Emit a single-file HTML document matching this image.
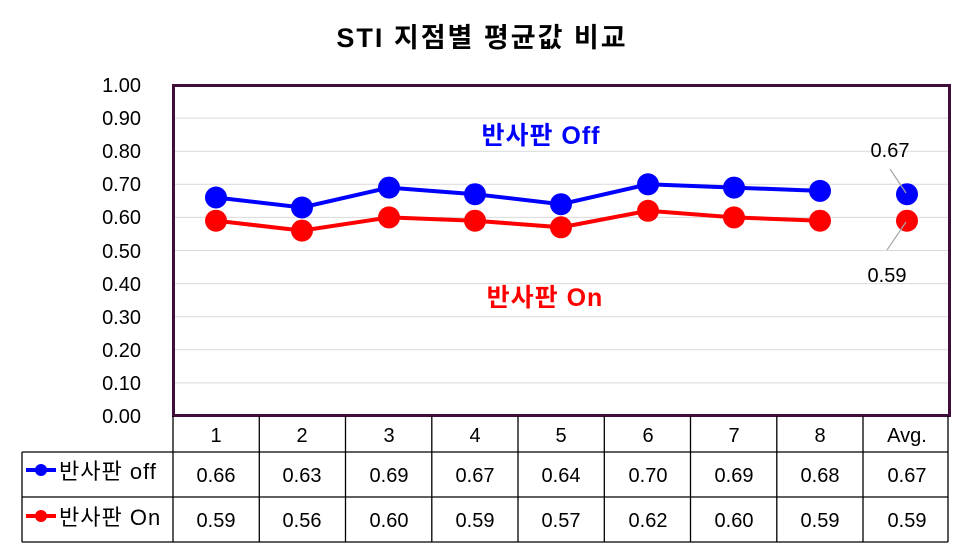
<!DOCTYPE html>
<html><head><meta charset="utf-8"><style>
body{margin:0;background:#fff;}
text{font-family:"Liberation Sans","Noto Sans CJK KR",sans-serif;}
</style></head><body>
<svg width="965" height="548" xmlns="http://www.w3.org/2000/svg">
<text x="482" y="47" font-size="27" font-weight="bold" text-anchor="middle" fill="#000" letter-spacing="2">STI  지점별 평균값 비교</text>
<g stroke="#d9d9d9" stroke-width="1">
<line x1="173" x2="949" y1="118.1" y2="118.1"/><line x1="173" x2="949" y1="151.2" y2="151.2"/>
<line x1="173" x2="949" y1="184.3" y2="184.3"/><line x1="173" x2="949" y1="217.4" y2="217.4"/>
<line x1="173" x2="949" y1="250.5" y2="250.5"/><line x1="173" x2="949" y1="283.6" y2="283.6"/>
<line x1="173" x2="949" y1="316.7" y2="316.7"/><line x1="173" x2="949" y1="349.8" y2="349.8"/>
<line x1="173" x2="949" y1="382.9" y2="382.9"/>
</g>
<g font-size="20" fill="#000" text-anchor="end">
<text x="141" y="92">1.00</text><text x="141" y="125">0.90</text><text x="141" y="158">0.80</text>
<text x="141" y="191">0.70</text><text x="141" y="224">0.60</text><text x="141" y="258">0.50</text>
<text x="141" y="291">0.40</text><text x="141" y="324">0.30</text><text x="141" y="357">0.20</text>
<text x="141" y="390">0.10</text><text x="141" y="423">0.00</text>
</g>
<polyline fill="none" stroke="#0000ff" stroke-width="4" points="216,197.5 302,207.5 389,187.6 475,194.2 561,204.2 648,184.3 734,187.6 820,190.9"/>
<polyline fill="none" stroke="#ff0000" stroke-width="4" points="216,220.7 302,230.6 389,217.4 475,220.7 561,227.3 648,210.8 734,217.4 820,220.7"/>
<g fill="#0000ff">
<circle cx="216" cy="197.5" r="11"/><circle cx="302" cy="207.5" r="11"/><circle cx="389" cy="187.6" r="11"/><circle cx="475" cy="194.2" r="11"/><circle cx="561" cy="204.2" r="11"/><circle cx="648" cy="184.3" r="11"/><circle cx="734" cy="187.6" r="11"/><circle cx="820" cy="190.9" r="11"/><circle cx="907" cy="194.2" r="11"/>
</g>
<g fill="#ff0000">
<circle cx="216" cy="220.7" r="11"/><circle cx="302" cy="230.6" r="11"/><circle cx="389" cy="217.4" r="11"/><circle cx="475" cy="220.7" r="11"/><circle cx="561" cy="227.3" r="11"/><circle cx="648" cy="210.8" r="11"/><circle cx="734" cy="217.4" r="11"/><circle cx="820" cy="220.7" r="11"/><circle cx="907" cy="220.7" r="11"/>
</g>
<line x1="890" y1="169" x2="906" y2="193" stroke="#a6a6a6" stroke-width="1.2"/>
<line x1="887" y1="250" x2="906" y2="222" stroke="#a6a6a6" stroke-width="1.2"/>
<text x="890" y="157" font-size="20" text-anchor="middle">0.67</text>
<text x="887" y="282" font-size="20" text-anchor="middle">0.59</text>
<text x="541" y="144" font-size="25" font-weight="bold" fill="#0000ff" text-anchor="middle" letter-spacing="1">반사판 Off</text>
<text x="545" y="306" font-size="25" font-weight="bold" fill="#ff0000" text-anchor="middle" letter-spacing="1">반사판 On</text>
<rect x="173.5" y="85.5" width="776" height="330" fill="none" stroke="#3f0f3a" stroke-width="3"/>
<g stroke="#000" stroke-width="1.3" fill="none">
<line x1="173" y1="416" x2="173" y2="542"/>
<line x1="948" y1="416" x2="948" y2="542"/>
<line x1="22" y1="452" x2="948" y2="452"/>
<line x1="22" y1="497" x2="948" y2="497"/>
<line x1="22" y1="542" x2="948" y2="542"/>
<line x1="22" y1="452" x2="22" y2="542"/>
<line x1="259.3" y1="416" x2="259.3" y2="542"/><line x1="345.5" y1="416" x2="345.5" y2="542"/>
<line x1="431.8" y1="416" x2="431.8" y2="542"/><line x1="518" y1="416" x2="518" y2="542"/>
<line x1="604.3" y1="416" x2="604.3" y2="542"/><line x1="690.5" y1="416" x2="690.5" y2="542"/>
<line x1="776.8" y1="416" x2="776.8" y2="542"/><line x1="863" y1="416" x2="863" y2="542"/>
</g>
<g font-size="20" text-anchor="middle" fill="#000">
<text x="216" y="442">1</text><text x="302" y="442">2</text><text x="389" y="442">3</text><text x="475" y="442">4</text><text x="561" y="442">5</text><text x="648" y="442">6</text><text x="734" y="442">7</text><text x="820" y="442">8</text><text x="907" y="442">Avg.</text>
<text x="216" y="482">0.66</text><text x="302" y="482">0.63</text><text x="389" y="482">0.69</text><text x="475" y="482">0.67</text><text x="561" y="482">0.64</text><text x="648" y="482">0.70</text><text x="734" y="482">0.69</text><text x="820" y="482">0.68</text><text x="907" y="482">0.67</text>
<text x="216" y="527">0.59</text><text x="302" y="527">0.56</text><text x="389" y="527">0.60</text><text x="475" y="527">0.59</text><text x="561" y="527">0.57</text><text x="648" y="527">0.62</text><text x="734" y="527">0.60</text><text x="820" y="527">0.59</text><text x="907" y="527">0.59</text>
</g>
<line x1="26" y1="470" x2="56" y2="470" stroke="#0000ff" stroke-width="4"/><circle cx="41" cy="470" r="6" fill="#0000ff"/>
<line x1="26" y1="516" x2="56" y2="516" stroke="#ff0000" stroke-width="4"/><circle cx="41" cy="516" r="6" fill="#ff0000"/>
<text x="59" y="479" font-size="22" letter-spacing="1">반사판 off</text>
<text x="59" y="525" font-size="22" letter-spacing="1">반사판 On</text>
</svg>
</body></html>
